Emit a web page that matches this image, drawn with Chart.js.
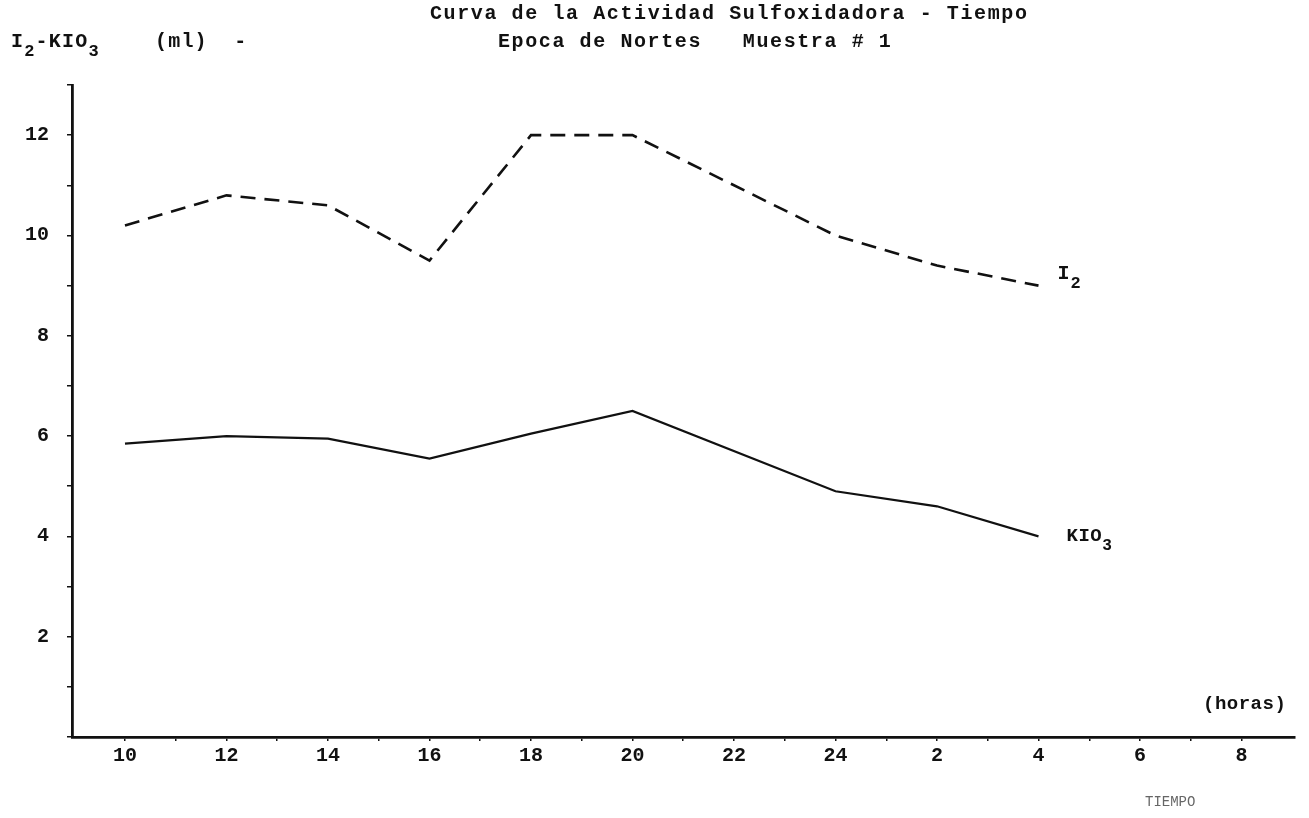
<!DOCTYPE html>
<html><head><meta charset="utf-8">
<script src="https://cdn.jsdelivr.net/npm/chart.js@4.4.1/dist/chart.umd.min.js"></script>
<style>html,body{margin:0;padding:0;background:#fff;} canvas{display:block;}</style>
</head><body>
<canvas id="c" width="1309" height="818"></canvas>
<script>
// ---- data ----
const categories = ['10','12','14','16','18','20','22','24','2','4','6','8'];
const i2Values   = [10.2, 10.8, 10.6, 9.5, 12.0, 12.0, null, 10.0, 9.4, 9.0, null, null];
const kio3Values = [5.85, 6.0, 5.95, 5.55, 6.05, 6.5, null, 4.9, 4.6, 4.0, null, null];
const yTickLabels = [2, 4, 6, 8, 10, 12];
const titleText = 'Curva de la Actividad Sulfoxidadora - Tiempo';
const subtitleText = 'Epoca de Nortes   Muestra # 1';
const yAxisTitleParts = [['I',false],['2',true],['-KIO',false],['3',true]];
const yAxisUnit = '(ml)  -';
const xUnitText = '(horas)';
const xAxisTitle = 'TIEMPO';
const i2LabelParts = [['I',false],['2',true]];
const kio3LabelParts = [['KIO',false],['3',true]];

const MONO = '"Liberation Mono","DejaVu Sans Mono",monospace';

function toPoints(vals){ return vals.map((v,i)=>({x:i, y:v})); }

function drawRich(ctx, x, y, parts, size, spacing, color){
  ctx.save();
  ctx.fillStyle = color || '#111';
  ctx.textAlign = 'left';
  ctx.textBaseline = 'alphabetic';
  ctx.letterSpacing = spacing + 'px';
  for (const [t, sub] of parts){
    const s = sub ? size*0.85 : size;
    ctx.font = 'bold ' + s + 'px ' + MONO;
    ctx.fillText(t, x, y + (sub ? size*0.45 : 0));
    x += ctx.measureText(t).width;
  }
  ctx.restore();
}

const textPlugin = {
  id: 'texts',
  afterDraw(chart){
    const ctx = chart.ctx;
    const xs = chart.scales.x, ys = chart.scales.y;
    drawRich(ctx, 430, 19, [[titleText,false]], 20, 1.6);
    drawRich(ctx, 498, 47, [[subtitleText,false]], 20, 1.6);
    drawRich(ctx, 11, 47, yAxisTitleParts, 20, 1.2);
    drawRich(ctx, 155, 47, [[yAxisUnit,false]], 20, 1.2);
    drawRich(ctx, 1203, 709, [[xUnitText,false]], 19, 0.5);
    ctx.save();
    ctx.fillStyle = '#666';
    ctx.font = '14px ' + MONO;
    ctx.letterSpacing = '0px';
    ctx.textBaseline = 'alphabetic';
    ctx.fillText(xAxisTitle, 1145, 806);
    ctx.restore();
    // series end labels
    const lastI2 = 9, lastK = 9;
    drawRich(ctx, xs.getPixelForValue(lastI2) + 19, ys.getPixelForValue(i2Values[lastI2]) - 7, i2LabelParts, 20, 1);
    drawRich(ctx, xs.getPixelForValue(lastK) + 28, ys.getPixelForValue(kio3Values[lastK]) + 5, kio3LabelParts, 19, 0.5);
  }
};

const xTicks = [];
for (let i = 0; i <= 22; i++) xTicks.push({value: i/2});

new Chart(document.getElementById('c'), {
  type: 'line',
  data: {
    datasets: [
      { label: 'I2', data: toPoints(i2Values), borderColor: '#111', borderWidth: 2.6,
        borderDash: [15, 9], pointRadius: 0, spanGaps: true, tension: 0, fill: false },
      { label: 'KIO3', data: toPoints(kio3Values), borderColor: '#111', borderWidth: 2.2,
        pointRadius: 0, spanGaps: true, tension: 0, fill: false }
    ]
  },
  options: {
    responsive: false, animation: false,
    layout: { padding: { left: 0, right: 14, top: 85, bottom: 0 } },
    plugins: { legend: { display: false }, tooltip: { enabled: false }, title: { display: false } },
    scales: {
      x: {
        type: 'linear', min: -0.522, max: 11.527,
        afterBuildTicks(s){ s.ticks = xTicks.map(t => ({value: t.value})); },
        afterFit(s){ s.height = 81; },
        border: { display: true, color: '#111', width: 2.8 },
        grid: { drawOnChartArea: false, drawTicks: true, tickLength: 4, color: '#111', lineWidth: 1.5 },
        ticks: {
          autoSkip: false, maxRotation: 0, padding: 3, color: '#111',
          font: { family: MONO, size: 20, weight: 'bold' },
          callback(v){ return Number.isInteger(v) ? categories[v] : ''; }
        }
      },
      y: {
        type: 'linear', min: 0, max: 13,
        afterBuildTicks(s){ const a=[]; for (let i=0;i<=13;i++) a.push({value:i}); s.ticks = a; },
        afterFit(s){ s.width = 72; },
        border: { display: true, color: '#111', width: 2.8 },
        grid: { drawOnChartArea: false, drawTicks: true, tickLength: 5, color: '#111', lineWidth: 1.5 },
        ticks: {
          autoSkip: false, padding: 18, color: '#111',
          font: { family: MONO, size: 20, weight: 'bold' },
          callback(v){ return yTickLabels.includes(v) ? String(v) : ''; }
        }
      }
    }
  },
  plugins: [textPlugin]
});
</script>
</body></html>
